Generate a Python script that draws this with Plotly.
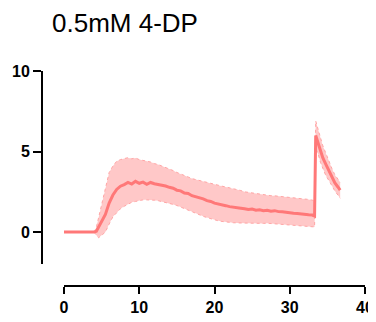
import plotly.graph_objects as go

# time (s)
time = [0, 1, 2, 3, 4, 4.3, 4.6, 5.0, 5.5, 6.0, 6.5, 7.0, 7.5, 8.0, 8.5, 9.0, 9.5, 10.0,
        10.5, 11.0, 11.5, 12.0, 12.5, 13.0, 13.5, 14.0, 14.5, 15.0, 15.5, 16.0, 16.5,
        17.0, 17.5, 18.0, 18.5, 19.0, 19.5, 20.0, 20.5, 21.0, 21.5, 22.0, 22.5, 23.0,
        23.5, 24.0, 24.5, 25.0, 25.5, 26.0, 26.5, 27.0, 27.5, 28.0, 28.5, 29.0, 29.5,
        30.0, 30.5, 31.0, 31.5, 32.0, 32.5, 33.0, 33.3, 33.45, 33.8, 34.1, 34.4, 34.8,
        35.2, 35.6, 36.0, 36.4, 36.7]

mean = [0, 0, 0, 0, 0, 0.05, 0.3, 0.65, 1.1, 1.8, 2.3, 2.65, 2.85, 2.95, 3.08, 2.98, 3.15,
        3.03, 3.1, 2.97, 3.08, 3.0, 2.96, 2.9, 2.86, 2.78, 2.72, 2.6, 2.56, 2.42, 2.4,
        2.26, 2.2, 2.1, 2.06, 1.95, 1.9, 1.8, 1.76, 1.68, 1.64, 1.58, 1.56, 1.5, 1.48,
        1.45, 1.4, 1.43, 1.36, 1.39, 1.33, 1.36, 1.3, 1.33, 1.27, 1.26, 1.22, 1.21, 1.17,
        1.16, 1.12, 1.11, 1.07, 1.06, 1.0, 6.0, 5.45, 5.0, 4.6, 4.2, 3.8, 3.4, 3.05, 2.8,
        2.6]

upper = [0, 0, 0, 0, 0, 0.3, 0.9, 1.8, 2.9, 3.7, 4.1, 4.4, 4.5, 4.55, 4.62, 4.55, 4.6,
         4.5, 4.45, 4.4, 4.35, 4.25, 4.2, 4.1, 4.02, 3.9, 3.82, 3.7, 3.62, 3.5, 3.42,
         3.32, 3.26, 3.18, 3.12, 3.05, 3.0, 2.95, 2.9, 2.85, 2.8, 2.75, 2.7, 2.62, 2.58,
         2.5, 2.46, 2.42, 2.38, 2.36, 2.32, 2.3, 2.26, 2.25, 2.22, 2.2, 2.18, 2.15, 2.12,
         2.1, 2.08, 2.05, 2.03, 2.0, 1.95, 6.9, 6.3, 5.8, 5.35, 4.9, 4.4, 3.95, 3.55, 3.3,
         3.1]

lower = [0, 0, 0, 0, 0, -0.2, -0.35, -0.2, 0.0, 0.5, 0.95, 1.2, 1.45, 1.6, 1.75, 1.85,
         1.9, 1.95, 2.0, 2.0, 2.0, 1.98, 1.95, 1.9, 1.85, 1.8, 1.72, 1.65, 1.55, 1.45,
         1.35, 1.25, 1.15, 1.05, 0.98, 0.9, 0.82, 0.75, 0.7, 0.66, 0.62, 0.6, 0.58, 0.57,
         0.56, 0.55, 0.56, 0.55, 0.56, 0.55, 0.54, 0.55, 0.53, 0.52, 0.5, 0.48, 0.46, 0.45,
         0.43, 0.42, 0.4, 0.38, 0.36, 0.35, 0.32, 5.2, 4.8, 4.3, 3.9, 3.5, 3.2, 2.85, 2.55,
         2.3, 2.1]

x_ticks = [0, 10, 20, 30, 40]
y_ticks = [0, 5, 10]

fig = go.Figure()
fig.add_trace(go.Scatter(x=time, y=upper, mode="lines",
                         line=dict(color="rgb(255,165,165)", width=1, dash="dot"),
                         hoverinfo="skip", showlegend=False))
fig.add_trace(go.Scatter(x=time, y=lower, mode="lines", fill="tonexty",
                         fillcolor="rgb(255,200,200)",
                         line=dict(color="rgb(255,165,165)", width=1, dash="dot"),
                         hoverinfo="skip", showlegend=False))
fig.add_trace(go.Scatter(x=time, y=mean, mode="lines",
                         line=dict(color="rgb(255,120,120)", width=3),
                         showlegend=False))

# the page body adds an 8 px margin, so the figure is 8 px smaller and shifted
OFF = 8
W, H = 376 - OFF, 322 - OFF
L, R, T, B = 42 - OFF, 11, 71 - OFF, 36
pw, ph = W - L - R, H - T - B

tickfont = dict(family="Liberation Sans, Arial, sans-serif", size=16, color="black")

fig.update_layout(
    width=W, height=H,
    margin=dict(l=L, r=R, t=T, b=B, pad=0, autoexpand=False),
    paper_bgcolor="white", plot_bgcolor="white",
    title=dict(text="0.5mM 4-DP", x=(52 - OFF) / W, xanchor="left", xref="container",
               y=1 - (23 - OFF) / H, yanchor="middle", yref="container",
               font=dict(family="Liberation Sans, Arial, sans-serif", size=26, color="black")),
    xaxis=dict(domain=[(64 - 42) / pw, 1], range=[0, 40], anchor="free", position=0,
               automargin=False,
               showline=True, linecolor="black", linewidth=2, showgrid=False,
               zeroline=False, ticks="outside", ticklen=7, tickwidth=2,
               tickcolor="black", tickvals=x_ticks,
               ticktext=[f"<b>{v}</b>" for v in x_ticks], tickfont=tickfont),
    yaxis=dict(domain=[(286 - 264.3) / ph, 1], range=[-2, 10], anchor="free", position=0,
               automargin=False,
               showline=True, linecolor="black", linewidth=2, showgrid=False,
               zeroline=False, ticks="outside", ticklen=8, tickwidth=2,
               tickcolor="black", tickvals=y_ticks,
               ticktext=[f"<b>{v}</b>" for v in y_ticks], tickfont=tickfont),
)

fig.write_html("out.html")
